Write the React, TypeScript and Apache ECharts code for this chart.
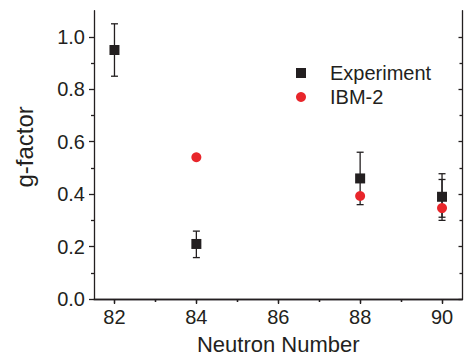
import React, { useEffect, useRef } from "react";
import * as echarts from "echarts";

const neutronNumbers = [82, 84, 88, 90];
const experimentValues = [0.95, 0.21, 0.46, 0.39];
const experimentLow = [0.85, 0.158, 0.36, 0.3];
const experimentHigh = [1.05, 0.259, 0.56, 0.478];
const extraErrorX = [90];
const extraErrorLow = [0.312];
const extraErrorHigh = [0.456];
const ibmX = [84, 88, 90];
const ibmValues = [0.541, 0.393, 0.347];
const xMajorTicks = [82, 84, 86, 88, 90];
const xMinorTicks = [83, 85, 87, 89];
const yMajorTicks = [0, 0.2, 0.4, 0.6, 0.8, 1.0];
const yMinorTicks = [0.1, 0.3, 0.5, 0.7, 0.9];

const FONT = "'Liberation Sans', Arial, sans-serif";
const AXIS_COLOR = "#231f20";
const TEXT_COLOR = "#231f20";

export default function App() {
  const ref = useRef<HTMLDivElement>(null);
  useEffect(() => {
    document.body.style.margin = "0";
    if (!ref.current) return;
    const chart = echarts.init(ref.current, null, { renderer: "svg" });

    const errorData: number[][] = neutronNumbers.map((x, i) => [x, experimentLow[i], experimentHigh[i]]);
    extraErrorX.forEach((x, i) => errorData.push([x, extraErrorLow[i], extraErrorHigh[i]]));

    const xBase = { type: "value", min: 81.5, max: 90.5, splitLine: { show: false } };
    const yBase = { type: "value", min: 0, max: 1.1, splitLine: { show: false } };
    const lineStyle = { color: AXIS_COLOR, width: 1.3 };

    chart.setOption({
      animation: false,
      textStyle: { fontFamily: FONT },
      grid: { left: 94, right: 5.5, top: 10.7, bottom: 57.3 },
      xAxis: [
        {
          ...xBase,
          position: "bottom",
          name: "Neutron Number",
          nameLocation: "middle",
          nameGap: 34,
          nameTextStyle: { fontSize: 22, color: TEXT_COLOR, fontFamily: FONT },
          axisLine: { show: true, lineStyle },
          axisTick: { show: true, inside: false, length: 5, customValues: xMajorTicks, lineStyle },
          axisLabel: { show: true, customValues: xMajorTicks, fontSize: 20, color: TEXT_COLOR, margin: 8, fontFamily: FONT },
        },
        {
          ...xBase,
          position: "bottom",
          axisLine: { show: false },
          axisTick: { show: true, inside: false, length: 3, customValues: xMinorTicks, lineStyle },
          axisLabel: { show: false },
        },
        {
          ...xBase,
          position: "top",
          axisLine: { show: true, lineStyle },
          axisTick: { show: true, inside: true, length: 4, customValues: xMajorTicks, lineStyle },
          axisLabel: { show: false },
        },
        {
          ...xBase,
          position: "top",
          axisLine: { show: false },
          axisTick: { show: true, inside: true, length: 3, customValues: xMinorTicks, lineStyle },
          axisLabel: { show: false },
        },
      ],
      yAxis: [
        {
          ...yBase,
          position: "left",
          name: "g-factor",
          nameLocation: "middle",
          nameGap: 58,
          nameTextStyle: { fontSize: 24, color: TEXT_COLOR, fontFamily: FONT, padding: [0, 0, 0, 16] },
          axisLine: { show: true, lineStyle },
          axisTick: { show: true, inside: false, length: 5, customValues: yMajorTicks, lineStyle },
          axisLabel: {
            show: true,
            customValues: yMajorTicks,
            fontSize: 20,
            color: TEXT_COLOR,
            margin: 9,
            fontFamily: FONT,
            formatter: (v: number) => v.toFixed(1),
          },
        },
        {
          ...yBase,
          position: "left",
          axisLine: { show: false },
          axisTick: { show: true, inside: false, length: 3, customValues: yMinorTicks, lineStyle },
          axisLabel: { show: false },
        },
        {
          ...yBase,
          position: "right",
          axisLine: { show: true, lineStyle },
          axisTick: { show: true, inside: true, length: 4, customValues: yMajorTicks, lineStyle },
          axisLabel: { show: false },
        },
        {
          ...yBase,
          position: "right",
          axisLine: { show: false },
          axisTick: { show: true, inside: true, length: 3, customValues: yMinorTicks, lineStyle },
          axisLabel: { show: false },
        },
      ],
      legend: {
        orient: "vertical",
        left: 296,
        top: 63,
        padding: 0,
        itemWidth: 10,
        itemHeight: 10,
        itemGap: 4,
        textStyle: { fontSize: 20, color: TEXT_COLOR, fontFamily: FONT, padding: [0, 0, 0, 19] },
        data: [
          { name: "Experiment", icon: "rect" },
          { name: "IBM-2", icon: "circle" },
        ],
      },
      series: [
        {
          type: "custom",
          name: "errors",
          xAxisIndex: 0,
          yAxisIndex: 0,
          z: 1,
          data: errorData,
          encode: { x: 0, y: [1, 2] },
          renderItem: (_params: any, api: any) => {
            const x = api.value(0);
            const lo = api.coord([x, api.value(1)]);
            const hi = api.coord([x, api.value(2)]);
            const hw = 3.5;
            const st = { stroke: "#231f20", lineWidth: 1.3 };
            return {
              type: "group",
              children: [
                { type: "line", shape: { x1: lo[0], y1: lo[1], x2: hi[0], y2: hi[1] }, style: st },
                { type: "line", shape: { x1: lo[0] - hw, y1: lo[1], x2: lo[0] + hw, y2: lo[1] }, style: st },
                { type: "line", shape: { x1: hi[0] - hw, y1: hi[1], x2: hi[0] + hw, y2: hi[1] }, style: st },
              ],
            };
          },
        },
        {
          type: "scatter",
          name: "Experiment",
          xAxisIndex: 0,
          yAxisIndex: 0,
          symbol: "rect",
          symbolSize: 10,
          z: 3,
          itemStyle: { color: "#231f20", opacity: 1 },
          data: neutronNumbers.map((x, i) => [x, experimentValues[i]]),
        },
        {
          type: "scatter",
          name: "IBM-2",
          xAxisIndex: 0,
          yAxisIndex: 0,
          symbol: "circle",
          symbolSize: 10,
          z: 2,
          itemStyle: { color: "#e8262b", opacity: 1 },
          data: ibmX.map((x, i) => [x, ibmValues[i]]),
        },
      ],
    });
    return () => chart.dispose();
  }, []);
  return <div ref={ref} style={{ width: 468, height: 360 }} />;
}
